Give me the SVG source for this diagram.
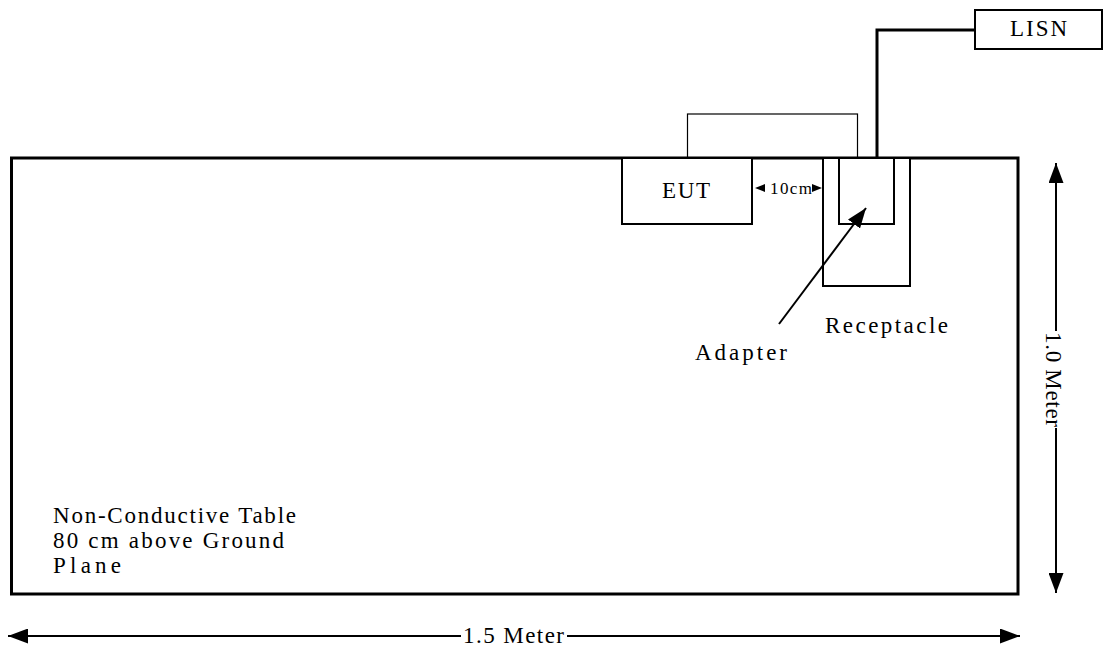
<svg xmlns="http://www.w3.org/2000/svg" width="1105" height="646" viewBox="0 0 1105 646">
<style>
.box{fill:#fff;stroke:#000;stroke-width:2}
.thin{fill:none;stroke:#000;stroke-width:1.2}
.dim{fill:none;stroke:#000;stroke-width:2}
</style>
<defs>
<marker id="ah" viewBox="0 0 20 15" refX="20" refY="7.5" markerWidth="20" markerHeight="15" markerUnits="userSpaceOnUse" orient="auto-start-reverse">
<path d="M0,0 L20,7.5 L0,15 z" fill="#000"/>
</marker>
</defs>
<rect width="1105" height="646" fill="#fff"/>
<g font-family="Liberation Serif, serif" font-size="23" fill="#000">
<g id="table">
<rect x="11.5" y="158" width="1006.5" height="436" fill="none" stroke="#000" stroke-width="3"/>
<text x="53" y="523" textLength="243" lengthAdjust="spacing">Non-Conductive Table</text>
<text x="53" y="548" textLength="231" lengthAdjust="spacing">80 cm above Ground</text>
<text x="53" y="573" textLength="68" lengthAdjust="spacing">Plane</text>
</g>
<g id="topbox">
<rect class="thin" x="687.5" y="114" width="170" height="44"/>
</g>
<g id="eut">
<rect class="box" x="622" y="158" width="130" height="66"/>
<text x="662" y="198" textLength="48" lengthAdjust="spacing">EUT</text>
</g>
<g id="receptacle">
<rect class="box" x="823" y="158" width="87" height="128"/>
<text x="825" y="333" textLength="123" lengthAdjust="spacing">Receptacle</text>
</g>
<g id="adapter">
<rect class="box" x="839" y="158" width="55" height="66"/>
<text x="695" y="360" textLength="92" lengthAdjust="spacing">Adapter</text>
</g>
<g id="lisn">
<rect class="box" x="975" y="10" width="127" height="39"/>
<text x="1010" y="36" textLength="57" lengthAdjust="spacing">LISN</text>
</g>
<g id="connectors">
<polyline points="877,158 877,30 975,30" fill="none" stroke="#000" stroke-width="3"/>
<line class="dim" x1="779" y1="324" x2="866" y2="208" marker-end="url(#ah)"/>
<line class="dim" x1="8" y1="636" x2="461" y2="636" marker-start="url(#ah)"/>
<line class="dim" x1="567" y1="636" x2="1020" y2="636" marker-end="url(#ah)"/>
<text x="463" y="643" textLength="101" lengthAdjust="spacing">1.5 Meter</text>
<line class="dim" x1="1056" y1="163" x2="1056" y2="331" marker-start="url(#ah)"/>
<line class="dim" x1="1056" y1="428" x2="1056" y2="593" marker-end="url(#ah)"/>
<text transform="translate(1046,332) rotate(90)" x="0" y="0" textLength="95" lengthAdjust="spacing">1.0 Meter</text>
<polygon points="755,188 765,184 765,192" fill="#000"/>
<polygon points="822,188 812,184 812,192" fill="#000"/>
<text x="770" y="194" font-size="17" textLength="42" lengthAdjust="spacing">10cm</text>
</g>
</g>
</svg>
